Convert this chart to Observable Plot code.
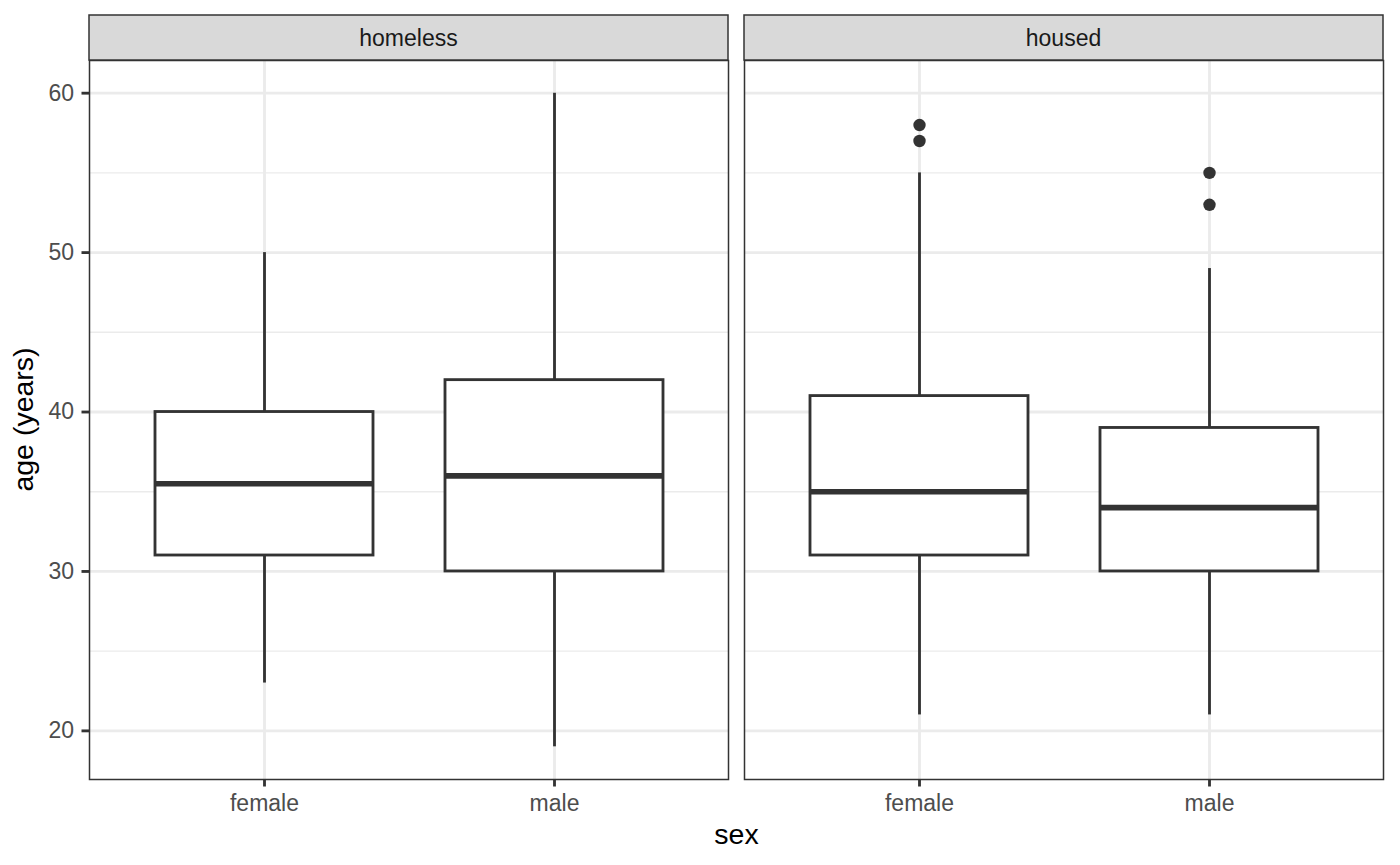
<!DOCTYPE html>
<html>
<head>
<meta charset="utf-8">
<script src="https://cdn.jsdelivr.net/npm/d3@7"></script>
<script src="https://cdn.jsdelivr.net/npm/@observablehq/plot@0.6"></script>
<style>
  html, body { margin: 0; padding: 0; background: #ffffff; }
  #chart { width: 1400px; height: 865px; }
</style>
</head>
<body>
<div id="chart"></div>
<script>
// ---- data ----
const facetLevels = ["homeless", "housed"];
const sexLevels = ["female", "male"];

const boxStatus   = ["homeless", "homeless", "housed", "housed"];
const boxSex      = ["female", "male", "female", "male"];
const whiskerLow  = [23, 19, 21, 21];
const lowerQ      = [31, 30, 31, 30];
const medianAge   = [35.5, 36, 35, 34];
const upperQ      = [40, 42, 41, 39];
const whiskerHigh = [50, 60, 55, 49];

const outlierStatus = ["housed", "housed", "housed", "housed"];
const outlierSex    = ["female", "female", "male", "male"];
const outlierAge    = [58, 57, 55, 53];

const yMajorTicks = [20, 30, 40, 50, 60];
const yMinorTicks = [25, 35, 45, 55];

const xTitle = "sex";
const yTitle = "age (years)";

// ---- tables built from the arrays ----
const boxes = boxStatus.map((s, i) => ({
  status: s, sex: boxSex[i],
  lo: whiskerLow[i], q1: lowerQ[i], med: medianAge[i], q3: upperQ[i], hi: whiskerHigh[i]
}));
const outliers = outlierStatus.map((s, i) => ({status: s, sex: outlierSex[i], age: outlierAge[i]}));

// y domain: data range expanded by 5% (ggplot default)
const allY = [...whiskerLow, ...whiskerHigh, ...outlierAge];
const yMin = d3.min(allY), yMax = d3.max(allY);
const yPad = (yMax - yMin) * 0.05;

const W = 1400, H = 865;
const mL = 89, mR = 16, mT = 60, mB = 86;
const gap = 16;
const bandW = (W - mL - mR - gap) / 2;
const step = bandW + gap;

const ink = "#333333";
const gridCol = "#EBEBEB";
const font = "'Liberation Sans', Arial, Helvetica, sans-serif";

const chart = Plot.plot({
  width: W,
  height: H,
  marginLeft: mL,
  marginRight: mR,
  marginTop: mT,
  marginBottom: mB,
  style: {fontFamily: font, fontSize: "23px", background: "#ffffff", color: "#4D4D4D", overflow: "visible"},
  fx: {domain: facetLevels, paddingInner: gap / step, paddingOuter: 0, axis: null, label: null},
  x: {domain: sexLevels, paddingInner: 0.25, paddingOuter: 0.225, label: null},
  y: {domain: [yMin - yPad, yMax + yPad], label: null},
  marks: [
    // grid
    Plot.ruleY(yMinorTicks, {stroke: gridCol, strokeWidth: 1.42}),
    Plot.ruleY(yMajorTicks, {stroke: gridCol, strokeWidth: 2.84}),
    Plot.ruleX(sexLevels, {x: d => d, stroke: gridCol, strokeWidth: 2.84}),
    // whiskers
    Plot.ruleX(boxes, {fx: "status", x: "sex", y1: "q3", y2: "hi", stroke: ink, strokeWidth: 2.84}),
    Plot.ruleX(boxes, {fx: "status", x: "sex", y1: "lo", y2: "q1", stroke: ink, strokeWidth: 2.84}),
    // boxes
    Plot.barY(boxes, {fx: "status", x: "sex", y1: "q1", y2: "q3", fill: "#ffffff", stroke: ink, strokeWidth: 2.84}),
    // medians
    Plot.tickY(boxes, {fx: "status", x: "sex", y: "med", stroke: ink, strokeWidth: 5.7}),
    // outliers
    Plot.dot(outliers, {fx: "status", x: "sex", y: "age", r: 6.2, fill: ink, stroke: null}),
    // panel border
    Plot.frame({stroke: ink, strokeWidth: 1.5}),
    // axes
    Plot.axisY({ticks: yMajorTicks, tickSize: 7.5, tickPadding: 8, label: null, fill: "#4D4D4D", stroke: ink, strokeWidth: 2.84, fontSize: 23}),
    Plot.axisX({tickSize: 7.5, tickPadding: 8, label: null, fill: "#4D4D4D", stroke: ink, strokeWidth: 2.84, fontSize: 23})
  ]
});

document.getElementById("chart").appendChild(chart);

// ---- facet strips and axis titles ----
const svg = d3.select(chart);
const fxScale = chart.scale("fx");
const bw = fxScale.bandwidth;
const stripTop = 15;
const strips = svg.append("g").attr("class", "strips");
facetLevels.forEach(lvl => {
  const x0 = fxScale.apply(lvl);
  strips.append("rect")
    .attr("x", x0).attr("y", stripTop)
    .attr("width", bw).attr("height", mT - stripTop)
    .attr("fill", "#D9D9D9").attr("stroke", ink).attr("stroke-width", 1.5);
  strips.append("text")
    .attr("x", x0 + bw / 2).attr("y", (stripTop + mT) / 2)
    .attr("dy", "0.36em")
    .attr("text-anchor", "middle")
    .attr("fill", "#1A1A1A")
    .style("font-family", font).style("font-size", "23px")
    .text(lvl);
});

const fxRange = fxScale.range;
svg.append("text")
  .attr("x", (fxRange[0] + fxRange[1]) / 2)
  .attr("y", H - 21)
  .attr("text-anchor", "middle")
  .attr("fill", "#000000")
  .style("font-family", font).style("font-size", "28.5px")
  .text(xTitle);

svg.append("text")
  .attr("transform", `translate(33, ${(mT + (H - mB)) / 2}) rotate(-90)`)
  .attr("text-anchor", "middle")
  .attr("fill", "#000000")
  .style("font-family", font).style("font-size", "28.5px")
  .text(yTitle);
</script>
</body>
</html>
